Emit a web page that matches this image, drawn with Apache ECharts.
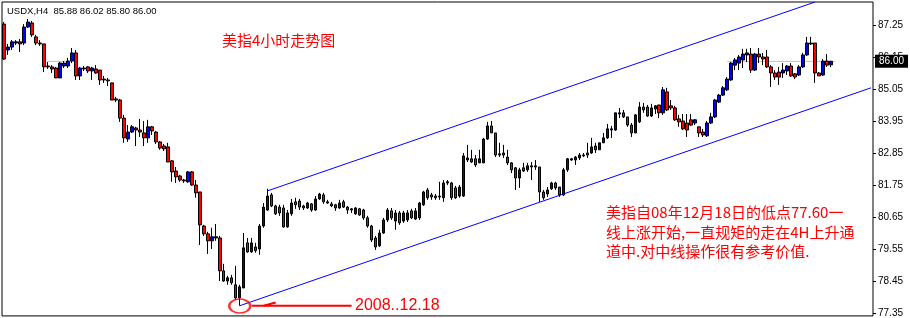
<!DOCTYPE html>
<html><head><meta charset="utf-8">
<script src="https://cdn.jsdelivr.net/npm/echarts@6/dist/echarts.min.js"></script>
<style>html,body{margin:0;padding:0;background:#fff}#c{width:910px;height:318px}</style>
</head><body><div id="c"></div>
<script>
// USDX H4 candles (open, close, low, high)
const opens = [87.28,86.39,86.49,86.63,86.67,86.63,87.18,87.32,86.84,86.63,86.60,85.84,85.81,85.77,85.43,85.84,85.84,86.01,86.29,85.50,85.74,85.81,85.67,85.74,85.70,85.39,85.36,85.26,84.71,84.67,84.05,83.33,83.57,83.71,83.64,83.54,83.37,83.75,83.57,83.23,83.09,83.06,82.58,82.23,82.06,81.92,81.86,82.20,81.75,81.51,80.34,80.07,79.83,79.93,79.93,78.80,78.45,78.56,78.32,77.87,78.21,79.76,79.45,79.62,79.55,80.34,80.89,81.41,81.03,80.99,80.96,80.31,80.76,81.17,81.20,81.03,80.96,81.10,80.89,81.27,81.41,81.17,81.10,81.07,80.96,81.17,80.99,80.93,80.76,80.93,80.89,80.62,80.34,79.93,79.66,80.10,80.55,80.86,80.51,80.79,80.51,80.55,80.86,80.58,80.62,81.07,81.58,81.41,81.37,81.34,81.31,81.82,81.82,81.65,81.37,81.37,82.61,82.65,82.65,82.51,82.51,83.33,83.78,83.54,82.82,82.85,82.71,82.51,82.34,81.99,82.34,82.27,82.41,82.37,82.37,81.51,81.44,81.62,81.82,81.68,81.41,82.27,82.61,82.61,82.68,82.78,82.85,82.85,83.09,82.96,83.20,83.37,83.64,83.64,84.19,84.23,84.09,83.81,83.54,83.92,84.43,84.43,84.12,84.36,84.50,84.23,84.95,84.47,84.40,84.02,83.95,83.88,83.99,83.88,83.75,83.57,83.44,83.88,84.09,84.60,84.84,85.02,85.36,85.87,85.94,86.05,86.22,86.25,85.70,86.25,86.15,86.15,85.81,85.60,85.63,85.60,85.67,85.84,85.57,85.53,85.81,86.22,86.60,86.63,85.60,85.53,86.01,85.88];
const closes = [86.08,86.49,86.67,86.67,86.60,87.18,87.35,86.91,86.63,86.60,85.81,85.81,85.74,85.43,85.94,85.94,86.01,86.29,85.50,85.77,85.77,85.67,85.77,85.60,85.36,85.36,85.33,84.67,84.67,84.05,83.37,83.57,83.75,83.64,83.57,83.37,83.75,83.61,83.23,83.02,82.99,82.54,82.20,82.03,81.92,81.89,82.20,81.75,81.48,80.38,80.07,79.83,79.97,79.97,78.80,78.45,78.56,78.39,77.87,78.25,79.59,79.45,79.76,79.49,80.34,80.99,81.37,81.03,80.76,80.79,80.31,80.79,81.13,81.07,80.99,80.96,81.13,80.89,81.27,81.44,81.17,81.13,81.03,80.96,81.13,80.99,80.89,80.89,80.96,80.72,80.62,80.34,79.86,79.62,80.10,80.55,80.89,80.62,80.79,80.45,80.79,80.79,80.62,80.86,81.13,81.51,81.31,81.34,81.31,81.37,81.82,81.86,81.31,81.31,81.68,82.75,82.68,82.54,82.44,82.65,83.33,83.78,83.54,82.78,82.78,82.78,82.51,82.27,81.99,82.27,82.23,82.41,82.37,82.41,81.51,81.31,81.58,81.82,81.65,81.41,82.27,82.65,82.65,82.71,82.78,82.75,82.78,83.06,82.96,83.20,83.37,83.68,83.68,84.23,84.23,84.09,83.81,83.54,84.16,84.43,84.33,84.12,84.40,84.47,84.23,85.02,84.33,84.40,83.99,83.92,83.68,83.64,83.81,83.99,83.54,83.47,83.88,84.09,84.67,84.84,85.09,85.39,85.94,86.05,86.15,86.25,86.29,85.70,86.25,86.15,86.08,85.81,85.60,85.46,85.46,85.70,85.84,85.50,85.46,85.81,86.22,86.63,86.63,85.60,85.50,86.01,85.87,86.00];
const lows = [86.05,86.22,86.39,86.56,86.32,86.56,87.15,86.84,86.56,86.53,85.63,85.74,85.60,85.43,85.43,85.77,85.77,85.94,85.36,85.36,85.67,85.60,85.36,85.57,85.19,85.26,85.15,84.67,84.60,83.92,83.20,83.23,83.54,83.09,83.40,83.09,83.20,83.47,83.16,82.96,82.92,82.54,81.86,81.82,81.86,81.82,81.82,81.72,81.31,79.69,80.00,79.38,79.55,79.83,78.45,78.42,78.32,78.32,77.80,77.60,78.21,79.42,79.42,79.42,79.35,80.28,80.86,80.99,80.72,80.69,80.28,80.28,80.69,80.93,80.89,80.89,80.93,80.83,80.86,81.24,81.10,81.10,80.99,80.86,80.93,80.96,80.76,80.79,80.72,80.69,80.55,80.28,79.79,79.52,79.62,80.07,80.48,80.55,80.21,80.38,80.45,80.48,80.58,80.55,80.55,81.03,81.24,81.24,81.24,81.24,81.17,81.75,81.24,81.27,81.31,81.34,82.54,82.51,82.37,82.51,82.51,83.30,83.54,82.71,82.71,82.68,82.44,82.16,81.58,81.65,82.20,82.20,81.92,82.27,81.17,81.24,81.34,81.58,81.58,81.34,81.37,82.20,82.58,82.44,82.61,82.71,82.68,82.82,82.85,82.96,83.20,83.33,83.37,83.61,84.05,84.05,83.75,83.40,83.54,83.88,84.23,84.09,84.09,84.19,84.05,84.16,84.29,84.33,83.95,83.75,83.64,83.40,83.78,83.81,83.40,83.40,83.40,83.85,84.05,84.57,84.81,84.98,85.33,85.70,85.70,85.77,85.98,85.60,85.67,85.94,85.87,85.77,85.12,85.36,85.19,85.43,85.53,85.46,85.39,85.50,85.77,86.19,86.56,85.26,85.50,85.50,85.81,85.80];
const highs = [87.35,86.60,86.73,86.73,86.77,87.28,87.46,87.39,86.91,86.73,86.60,85.98,85.87,85.81,85.98,86.01,86.12,86.46,86.39,85.81,85.84,85.84,85.81,85.87,85.70,85.50,85.43,85.26,84.78,84.71,84.16,83.81,83.81,83.75,84.02,83.95,83.99,83.78,83.61,83.26,83.16,83.20,82.61,82.37,82.10,81.96,82.23,82.23,81.92,81.51,80.38,80.14,80.28,80.41,80.00,79.04,78.63,78.66,78.97,78.32,80.10,79.93,79.93,79.76,80.41,81.13,81.62,81.48,81.07,81.07,81.07,80.89,81.27,81.31,81.27,81.07,81.17,81.13,81.37,81.48,81.48,81.24,81.17,81.10,81.24,81.24,81.03,80.96,80.99,80.96,80.93,80.69,80.38,80.00,80.21,80.62,80.96,80.96,80.89,80.86,80.86,80.89,80.93,80.96,81.17,81.55,81.65,81.48,81.44,81.86,81.92,81.92,81.86,81.72,81.75,82.85,83.13,82.96,82.78,82.96,83.37,83.92,83.95,83.54,83.20,83.13,82.96,82.54,82.37,82.34,82.51,82.51,82.54,82.61,82.37,81.58,81.68,81.86,81.86,81.68,82.34,82.68,82.68,82.75,82.85,82.85,83.20,83.37,83.20,83.20,83.54,83.85,83.78,84.23,84.40,84.33,84.09,83.88,84.19,84.60,84.57,84.50,84.54,84.50,84.50,85.12,85.09,84.67,84.47,84.16,84.19,84.19,84.19,84.02,83.75,83.68,83.95,84.23,84.71,84.88,85.15,85.46,85.98,86.12,86.22,86.43,86.43,86.46,86.29,86.46,86.29,86.39,85.87,85.70,85.81,85.94,85.87,85.94,85.60,85.87,86.29,86.84,86.84,86.63,85.63,86.08,86.25,86.02];
const yTicks = [77.35, 78.45, 79.55, 80.65, 81.75, 82.85, 83.95, 85.05, 86.15, 87.25];
const slotCount = 218;
const categories = Array.from({length: slotCount}, (_, i) => String(i));
// channel lines [index, price]
const upperChannel = [[66, 81.55], [203, 88.04]];
const lowerChannel = [[59, 77.60], [217, 85.09]];
const lowPoint = [[59, 77.59]];
const arrowLine = [[62, 77.60], [87, 77.60]];
const arrowBarb = [[65, 77.60], [68, 77.71]];
const bidSegA = [[11, 86.00], [17, 86.00]];
const bidSegB = [[181, 86.00], [208, 86.00]];
const lastPrice = 86.00;

const candles = opens.map((o, i) => [o, closes[i], lows[i], highs[i]]);
const chart = echarts.init(document.getElementById('c'), null, {renderer: 'canvas'});
const cjk = '"Noto Sans CJK SC", sans-serif';
const lineS = (data, color, width, z) => ({type: 'line', data, symbol: 'none', silent: true, z: z || 3,
  lineStyle: {color, width}, clip: true, animation: false});
chart.setOption({
  animation: false,
  backgroundColor: '#fff',
  grid: {left: 2, right: 37, top: 2, bottom: 2, show: true, borderColor: '#000', borderWidth: 1, backgroundColor: '#fff'},
  xAxis: {type: 'category', data: categories, boundaryGap: true,
    axisLine: {show: false}, axisTick: {show: false}, axisLabel: {show: false}, splitLine: {show: false}},
  yAxis: {type: 'value', position: 'right', min: 77.25, max: 88.04,
    splitLine: {show: false}, axisLine: {show: false},
    axisTick: {show: true, inside: false, length: 3, lineStyle: {color: '#000'}, customValues: yTicks},
    axisLabel: {customValues: yTicks, color: '#000', fontFamily: 'Liberation Sans', fontSize: 10, margin: 5,
      formatter: v => v.toFixed(2)}},
  series: [
    lineS(bidSegA, '#c0c0c0', 1, 1),
    lineS(bidSegB, '#c0c0c0', 1, 1),
    {type: 'candlestick', data: candles, barWidth: 3, z: 2,
      itemStyle: {color: '#0000ff', color0: '#ff0000', borderColor: '#000', borderColor0: '#000', borderColorDoji: '#000', borderWidth: 1},
      markLine: {symbol: 'none', silent: true, animation: false, z: 10,
        lineStyle: {color: 'rgba(0,0,0,0)', width: 1, type: 'solid'},
        label: {show: true, position: 'end', distance: 2, formatter: lastPrice.toFixed(2), backgroundColor: '#000', color: '#fff',
          padding: [2, 4, 1, 4], fontFamily: 'Liberation Sans', fontSize: 10},
        data: [{yAxis: lastPrice}]}},
    lineS(upperChannel, '#0000ff', 1),
    lineS(lowerChannel, '#0000ff', 1),
    lineS(arrowLine, '#ff0000', 2),
    lineS(arrowBarb, '#ff0000', 2),
    {type: 'scatter', data: lowPoint, symbol: 'circle', symbolSize: [21, 14], silent: true, z: 4,
      itemStyle: {color: 'rgba(0,0,0,0)', borderColor: '#ff0000', borderWidth: 2}}
  ],
  graphic: [
    {type: 'text', x: 7, y: 11, style: {text: 'USDX,H4  85.88 86.02 85.80 86.00', font: '9.5px "Liberation Sans"', fill: '#000', verticalAlign: 'middle'}},
    {type: 'text', x: 222, y: 40, style: {text: '美指4小时走势图', font: '15px ' + cjk, fill: '#ff0000', verticalAlign: 'middle'}},
    {type: 'text', x: 606, y: 212, style: {text: '美指自08年12月18日的低点77.60一', font: '15px ' + cjk, fill: '#ff0000', verticalAlign: 'middle'}},
    {type: 'text', x: 606, y: 232, style: {text: '线上涨开始,一直规矩的走在4H上升通', font: '15px ' + cjk, fill: '#ff0000', verticalAlign: 'middle'}},
    {type: 'text', x: 606, y: 251, style: {text: '道中.对中线操作很有参考价值.', font: '15px ' + cjk, fill: '#ff0000', verticalAlign: 'middle'}},
    {type: 'text', x: 355, y: 306, style: {text: '2008..12.18', font: '16px "Liberation Sans"', fill: '#ff0000', verticalAlign: 'middle'}}
  ]
});
</script></body></html>
